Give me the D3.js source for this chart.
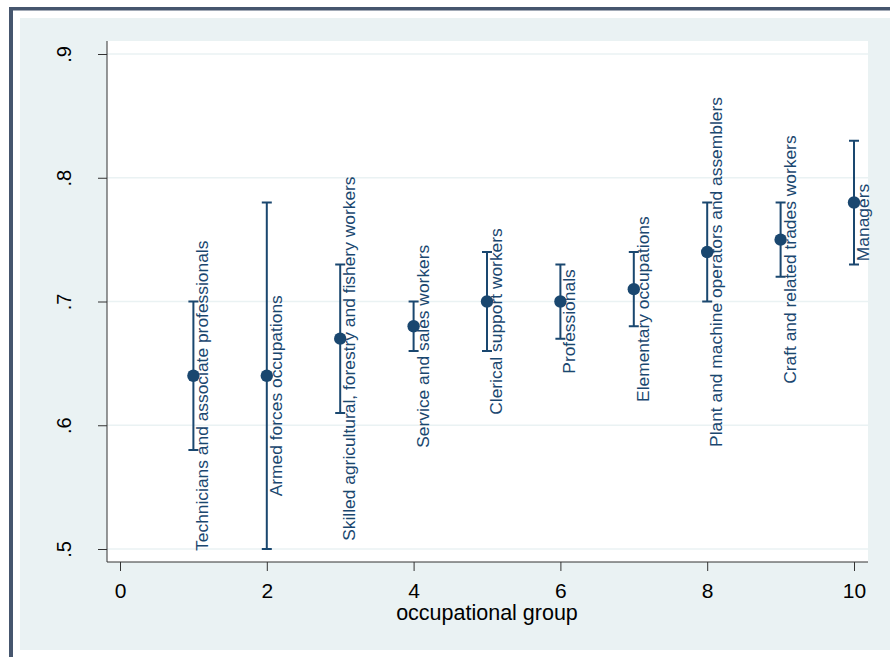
<!DOCTYPE html>
<html>
<head>
<meta charset="utf-8">
<script src="https://cdn.jsdelivr.net/npm/d3@7"></script>
<style>
  body { margin: 0; background: #fff; }
  svg { display: block; font-family: "Liberation Sans", Arial, sans-serif; }
</style>
</head>
<body>
<svg id="chart" width="890" height="657"></svg>
<script>
// occupational groups, means and confidence intervals
const groups = [1, 2, 3, 4, 5, 6, 7, 8, 9, 10];
const labels = [
  "Technicians and associate professionals",
  "Armed forces occupations",
  "Skilled agricultural, forestry and fishery workers",
  "Service and sales workers",
  "Clerical support workers",
  "Professionals",
  "Elementary occupations",
  "Plant and machine operators and assemblers",
  "Craft and related trades workers",
  "Managers"
];
const means = [0.64, 0.64, 0.67, 0.68, 0.70, 0.70, 0.71, 0.74, 0.75, 0.78];
const lower = [0.58, 0.50, 0.61, 0.66, 0.66, 0.67, 0.68, 0.70, 0.72, 0.73];
const upper = [0.70, 0.78, 0.73, 0.70, 0.74, 0.73, 0.74, 0.78, 0.78, 0.83];
const xTicks = [0, 2, 4, 6, 8, 10];
const yTicks = [0.5, 0.6, 0.7, 0.8, 0.9];
const yTickLabels = [".5", ".6", ".7", ".8", ".9"];

const navy = "#1a476f";
const svg = d3.select("#chart");

// outer frame
svg.append("rect").attr("x", 20).attr("y", 18).attr("width", 870).attr("height", 632).attr("fill", "#eaf2f3");
svg.append("rect").attr("x", 9).attr("y", 7).attr("width", 881).attr("height", 3.5).attr("fill", "#46566e");
svg.append("rect").attr("x", 9).attr("y", 7).attr("width", 4).attr("height", 650).attr("fill", "#46566e");

// plot region
const plot = { left: 107, top: 41, right: 868, bottom: 562 };
svg.append("rect")
  .attr("x", plot.left).attr("y", plot.top)
  .attr("width", plot.right - plot.left).attr("height", plot.bottom - plot.top)
  .attr("fill", "#fff");

const x = d3.scaleLinear().domain([0, 10]).range([120, 854]);
const y = d3.scaleLinear().domain([0.5, 0.9]).range([549, 54]);

// gridlines
svg.append("g").selectAll("line").data(yTicks).join("line")
  .attr("x1", plot.left).attr("x2", plot.right)
  .attr("y1", d => y(d)).attr("y2", d => y(d))
  .attr("stroke", "#eaf2f3").attr("stroke-width", 1.5);

// y axis, labels turned like Stata's vertical ones
const yAxis = svg.append("g").attr("transform", `translate(${plot.left},0)`)
  .call(d3.axisLeft(y).tickValues(yTicks).tickSize(9).tickFormat((d, i) => yTickLabels[i]));
yAxis.select(".domain").attr("d", `M0,${plot.top}V${plot.bottom}`).attr("stroke", "#333");
yAxis.selectAll(".tick line").attr("stroke", "#333");
yAxis.selectAll(".tick text")
  .attr("transform", "rotate(-90)")
  .attr("x", 0).attr("y", -36).attr("dy", 0)
  .attr("text-anchor", "middle")
  .attr("font-size", 20).attr("fill", "#000")
  .style("font-family", "Liberation Sans, Arial, sans-serif");

// x axis
const xAxis = svg.append("g").attr("transform", `translate(0,${plot.bottom})`)
  .call(d3.axisBottom(x).tickValues(xTicks).tickSize(9).tickFormat(d3.format("d")));
xAxis.select(".domain").attr("d", `M${plot.left},0H${plot.right}`).attr("stroke", "#333");
xAxis.selectAll(".tick line").attr("stroke", "#333");
xAxis.selectAll(".tick text")
  .attr("y", 36).attr("dy", 0)
  .attr("font-size", 21).attr("fill", "#000")
  .style("font-family", "Liberation Sans, Arial, sans-serif");

svg.append("text")
  .attr("x", (x(0) + x(10)) / 2).attr("y", 620)
  .attr("text-anchor", "middle").attr("font-size", 21.5).attr("fill", "#000")
  .text("occupational group");

// error bars, points and labels
const rows = groups.map((g, i) => ({ g, label: labels[i], m: means[i], lo: lower[i], hi: upper[i] }));
const marks = svg.append("g");
const capW = 5;
marks.selectAll(".bar").data(rows).join("path")
  .attr("d", d => `M${x(d.g)},${y(d.lo)}V${y(d.hi)}M${x(d.g) - capW},${y(d.lo)}H${x(d.g) + capW}M${x(d.g) - capW},${y(d.hi)}H${x(d.g) + capW}`)
  .attr("stroke", navy).attr("stroke-width", 2).attr("fill", "none");
marks.selectAll("circle").data(rows).join("circle")
  .attr("cx", d => x(d.g)).attr("cy", d => y(d.m)).attr("r", 6.2)
  .attr("fill", navy);
marks.selectAll(".lab").data(rows).join("text")
  .attr("transform", d => `translate(${x(d.g) + 15},${y(d.m) + 20}) rotate(-90)`)
  .attr("text-anchor", "middle")
  .attr("font-size", 17.4).attr("fill", navy)
  .text(d => d.label);
</script>
</body>
</html>
